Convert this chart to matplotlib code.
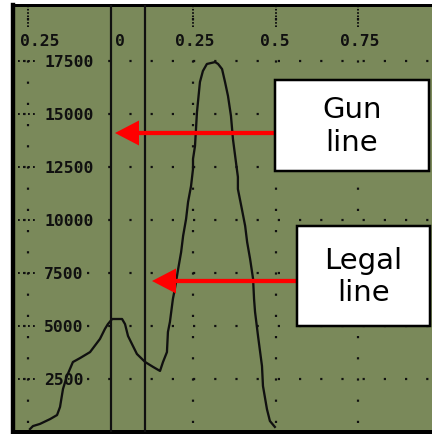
import matplotlib
matplotlib.use("Agg")
import matplotlib.pyplot as plt
from matplotlib import transforms
from matplotlib.patches import Rectangle

# trace
trace_x = [-0.244, -0.235, -0.214, -0.183, -0.162, -0.153, -0.144, -0.132, -0.114, -0.092,
           -0.062, -0.032, -0.017, -0.008, 0.005, 0.035, 0.044, 0.053, 0.065, 0.080,
           0.105, 0.129, 0.150, 0.159, 0.171, 0.174, 0.180, 0.189, 0.195, 0.205,
           0.214, 0.220, 0.229, 0.235, 0.244, 0.250, 0.250, 0.256, 0.262, 0.271,
           0.280, 0.292, 0.317, 0.326, 0.338, 0.347, 0.356, 0.365, 0.371, 0.380,
           0.386, 0.386, 0.398, 0.408, 0.414, 0.423, 0.432, 0.435, 0.438, 0.447,
           0.459, 0.462, 0.474, 0.483, 0.498]
trace_y = [140, 280, 380, 610, 800, 1180, 2030, 2640, 3300, 3490,
           3770, 4390, 4860, 5090, 5330, 5330, 5090, 4530, 4150, 3680,
           3300, 3070, 2880, 3300, 3770, 4720, 5190, 6270, 6750, 7690,
           8490, 9250, 10050, 10850, 11600, 12410, 12880, 13490, 15090, 16510,
           17030, 17360, 17450, 17360, 17120, 16510, 15850, 14910, 13820, 12740,
           12030, 11460, 10520, 9720, 8960, 8160, 7220, 6270, 5660, 4530,
           3110, 2170, 1080, 520, 240]
gun_x = 0.0
legal_x = 0.104
xticks = [-0.25, 0, 0.25, 0.5, 0.75]
xtick_labels = ["0.25", "0", "0.25", "0.5", "0.75"]
yticks = [2500, 5000, 7500, 10000, 12500, 15000, 17500]
ytick_labels = ["2500", "5000", "7500", "10000", "12500", "15000", "17500"]

BG = "#7a895a"
INK = "#101010"
PX = 0.72  # points per pixel at dpi 100

plt.rcParams["lines.scale_dashes"] = False


def dots(on, off, offset=0):
    return (offset * PX, (on * PX, off * PX))


fig = plt.figure(figsize=(4.32, 4.35), dpi=100, facecolor="white")
ax = fig.add_axes([13 / 432, 2 / 435, 419 / 432, 427 / 435])
ax.set_facecolor(BG)
ax.set_xlim(-0.2955, 0.9742)
ax.set_ylim(0, 20142)
ax.set_xticks([])
ax.set_yticks([])
ax.spines["right"].set_visible(False)
ax.spines["left"].set_linewidth(4.4 * PX)
ax.spines["top"].set_linewidth(3 * PX)
ax.spines["bottom"].set_linewidth(5 * PX)
for s in ax.spines.values():
    s.set_color("black")

# dotted graticule
for y in yticks:
    ax.axhline(y, color=INK, lw=2.2 * PX, ls=dots(2.2, 19.0, 10.8), zorder=1)
    ax.axhline(y, xmin=0, xmax=22 / 419, color=INK, lw=2 * PX, ls=dots(1.8, 3.2), zorder=1)
for x in xticks:
    if x == gun_x:
        continue
    ax.axvline(x, color=INK, lw=2.2 * PX, ls=dots(2.2, 19.0, 12.2), zorder=1)
    ax.axvline(x, ymin=1 - 22 / 427, ymax=1, color=INK, lw=2 * PX, ls=dots(1.6, 1.7), zorder=1)

ax.axvline(gun_x, color=INK, lw=2.2 * PX, zorder=3)
ax.axvline(legal_x, color=INK, lw=2.2 * PX, zorder=3)
ax.plot(trace_x, trace_y, color=INK, lw=2.3 * PX, zorder=4)

mono = dict(family=["DejaVu Sans Mono"], weight="bold", size=11.8, color=INK)
label_bg = dict(boxstyle="square,pad=0.05", fc=BG, ec="none")
xlabel_shift = [12, 9.5, 2, -1, 2]
for t, lab, sh in zip(xticks, xtick_labels, xlabel_shift):
    tr = transforms.offset_copy(ax.get_xaxis_transform(), fig=fig, x=sh * PX, y=0, units="points")
    ax.text(t, 1 - 36 / 427, lab, transform=tr, ha="center", va="center",
            bbox=label_bg, zorder=2, **mono)
for v, lab in zip(yticks, ytick_labels):
    ax.text(31 / 419, v, lab, transform=ax.get_yaxis_transform(), ha="left", va="center",
            bbox=label_bg, zorder=2, **mono)

# call-outs
arrow = dict(arrowstyle="simple,head_length=0.96,head_width=1.0,tail_width=0.17",
             mutation_scale=18, color="red", lw=0, shrinkA=0, shrinkB=0)
ax.annotate("", xy=(115, 435 - 134), xytext=(276, 435 - 134), xycoords="figure pixels",
            arrowprops=arrow, zorder=6)
ax.annotate("", xy=(152, 435 - 282), xytext=(298, 435 - 282), xycoords="figure pixels",
            arrowprops=arrow, zorder=6)

for (x0, y0, x1, y1), txt in [((275, 81, 429, 172), "Gun\nline"),
                               ((297, 227, 430, 327), "Legal\nline")]:
    fig.add_artist(Rectangle((x0 / 432, 1 - y1 / 435), (x1 - x0) / 432, (y1 - y0) / 435,
                             transform=fig.transFigure, fc="white", ec="black",
                             lw=2.5 * PX, zorder=7))
    fig.text((x0 + x1) / 2 / 432, 1 - (y0 + y1) / 2 / 435, txt, ha="center", va="center",
             ma="center", size=21, family=["DejaVu Sans"], color="black", zorder=8)

fig.savefig("out.png", dpi=100)
